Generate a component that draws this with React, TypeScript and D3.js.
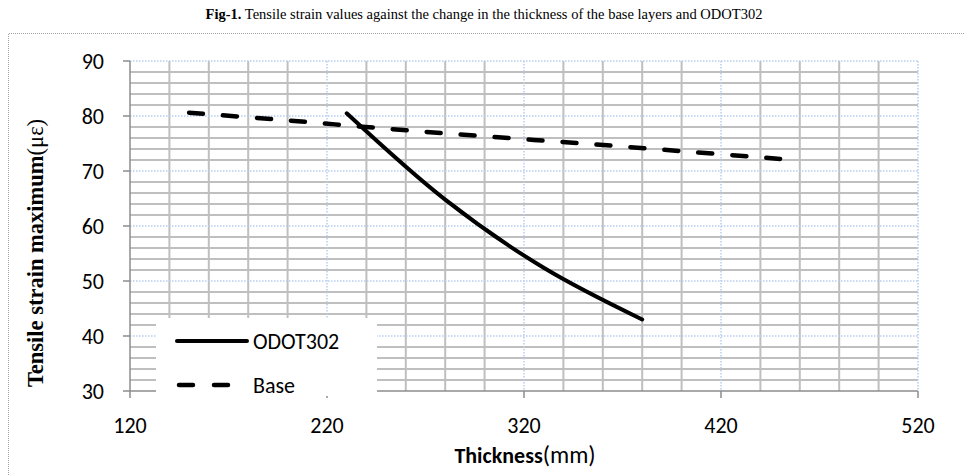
import React from "react";
import * as d3 from "d3";

const odotX = [230, 280, 330, 380];
const odotY = [80.5, 64.8, 52.4, 43.0];
const baseX = [150, 200, 250, 300, 350, 400, 450];
const baseY = [80.6, 79.2, 77.7, 76.3, 75.0, 73.6, 72.2];
const xTicks = [120, 220, 320, 420, 520];
const yTicks = [30, 40, 50, 60, 70, 80, 90];
const seriesNames = ["ODOT302", "Base"];
const titleBold = "Fig-1.";
const titleRest = " Tensile strain values against the change in the thickness of the base layers and ODOT302";

const W = 965;
const H = 475;
const L = 130, R = 918, T = 61, B = 391;
const calibri = "Carlito, Lato, 'Open Sans', sans-serif";
const serif = "'Liberation Serif', 'Times New Roman', serif";

export default function App() {
  const x = d3.scaleLinear().domain([120, 520]).range([L, R]);
  const y = d3.scaleLinear().domain([30, 90]).range([B, T]);

  const minorY = d3.range(32, 90, 2).filter((v) => v % 10 !== 0);
  const minorX = d3.range(140, 520, 20).filter((v) => v % 100 !== 20);
  const majorY = yTicks.filter((v) => v !== 30);
  const majorX = xTicks.filter((v) => v !== 120);

  const line = d3
    .line<[number, number]>()
    .x((d) => x(d[0]))
    .y((d) => y(d[1]))
    .curve(d3.curveCatmullRom.alpha(0.5));

  const odot = odotX.map((v, i) => [v, odotY[i]] as [number, number]);
  const base = baseX.map((v, i) => [v, baseY[i]] as [number, number]);

  // make the dashed line end on a dash
  let baseLen = 0;
  for (let i = 1; i < base.length; i++) {
    baseLen += Math.hypot(x(base[i][0]) - x(base[i - 1][0]), y(base[i][1]) - y(base[i - 1][1]));
  }
  const dash = 14;
  const nGaps = Math.round((baseLen - dash) / 35);
  const gap = (baseLen - dash * (nGaps + 1)) / nGaps;

  const gridGray = "#bfbfbf";
  const blue = "#b7cdee";
  const axisGray = "#8c8c8c";

  const lx = 156, ly = 318, lw = 221, lh = 78;

  return (
    <svg
      width={W}
      height={H}
      style={{ position: "absolute", left: 0, top: 0, background: "#fff" }}
    >
      <rect x={0} y={0} width={W} height={H} fill="#fff" />
      <path
        d={`M8.5,${H} L8.5,33.5 L${W},33.5`}
        fill="none"
        stroke="#a0a0a0"
        strokeWidth={1}
        strokeDasharray="1,1"
      />
      <text x={484} y={19} textAnchor="middle" fontFamily={serif} fontSize={14.5} fill="#000">
        <tspan fontWeight="bold">{titleBold}</tspan>
        <tspan>{titleRest}</tspan>
      </text>

      {minorY.map((v) => (
        <line key={"my" + v} x1={L} x2={R} y1={y(v)} y2={y(v)} stroke={gridGray} strokeWidth={2} />
      ))}
      {minorX.map((v) => (
        <line key={"mx" + v} x1={x(v)} x2={x(v)} y1={T} y2={B} stroke={gridGray} strokeWidth={2} />
      ))}
      {majorY.map((v) => (
        <line key={"My" + v} x1={L} x2={R} y1={y(v)} y2={y(v)} stroke={blue} strokeWidth={1.5} strokeDasharray="1.5,1.5" />
      ))}
      {majorX.map((v) => (
        <line key={"Mx" + v} x1={x(v)} x2={x(v)} y1={T} y2={B} stroke={blue} strokeWidth={1.5} strokeDasharray="1.5,1.5" />
      ))}

      <line x1={L} x2={L} y1={T} y2={B} stroke={axisGray} strokeWidth={1.5} />
      <line x1={L} x2={R} y1={B} y2={B} stroke={axisGray} strokeWidth={1.5} />
      {yTicks.map((v) => (
        <g key={"yt" + v}>
          <line x1={L - 7} x2={L} y1={y(v)} y2={y(v)} stroke={axisGray} strokeWidth={1.5} />
          <text x={104} y={y(v) + 7.5} textAnchor="end" fontFamily={calibri} fontSize={22} fill="#000">
            {v}
          </text>
        </g>
      ))}
      {xTicks.map((v) => (
        <g key={"xt" + v}>
          <line x1={x(v)} x2={x(v)} y1={B} y2={B + 7} stroke={axisGray} strokeWidth={1.5} />
          <text x={x(v)} y={433} textAnchor="middle" fontFamily={calibri} fontSize={22} fill="#000">
            {v}
          </text>
        </g>
      ))}

      <path
        d={line(base) || ""}
        fill="none"
        stroke="#000"
        strokeWidth={4.5}
        strokeLinecap="round"
        strokeDasharray={`${dash},${gap.toFixed(2)}`}
      />
      <path d={line(odot) || ""} fill="none" stroke="#000" strokeWidth={4} strokeLinecap="round" />

      <rect x={lx} y={ly} width={lw} height={lh} fill="#fff" />
      <line x1={177} x2={247} y1={341} y2={341} stroke="#000" strokeWidth={4} strokeLinecap="round" />
      <text x={253} y={349} fontFamily={calibri} fontSize={22} fill="#000">{seriesNames[0]}</text>
      <line x1={179} x2={232} y1={385} y2={385} stroke="#000" strokeWidth={4.5} strokeLinecap="round" strokeDasharray="14,21" />
      <text x={253} y={393} fontFamily={calibri} fontSize={22} fill="#000">{seriesNames[1]}</text>

      <text x={525} y={463} textAnchor="middle" fontFamily={calibri} fontSize={22} fill="#000">
        <tspan fontWeight="bold">Thickness</tspan>
        <tspan fontSize={24}>(mm)</tspan>
      </text>
      <text
        transform={`translate(43,253) rotate(-90)`}
        textAnchor="middle"
        fontFamily={serif}
        fontSize={22.5}
        fill="#000"
      >
        <tspan fontWeight="bold">Tensile strain maximum</tspan>
        <tspan>(με)</tspan>
      </text>
    </svg>
  );
}
